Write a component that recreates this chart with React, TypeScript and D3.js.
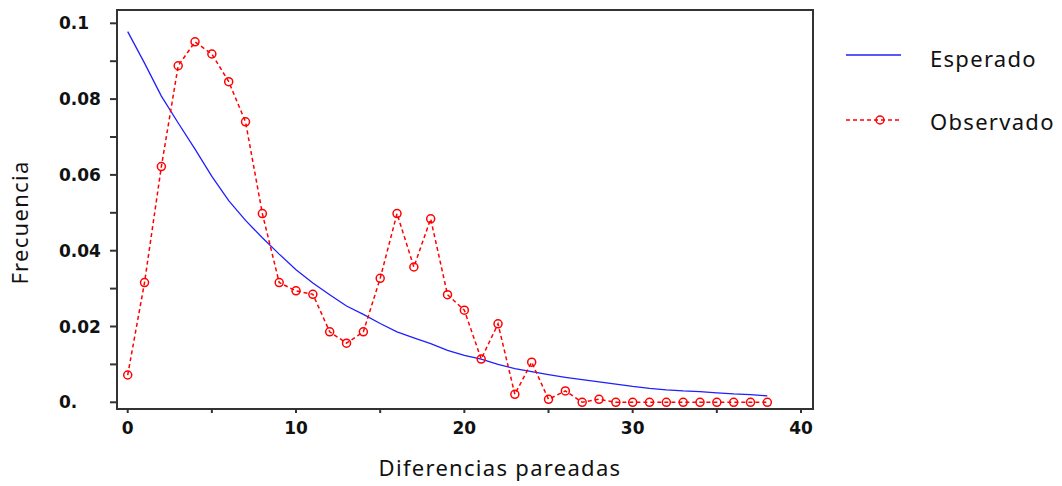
import React, { useRef, useEffect } from 'react';
import * as d3 from 'd3';

// Data
const xValues = d3.range(0, 39);
const observed = [
  0.0072, 0.0316, 0.0622, 0.0888, 0.0951, 0.0919, 0.0846, 0.0740, 0.0498, 0.0316,
  0.0294, 0.0285, 0.0186, 0.0156, 0.0186, 0.0327, 0.0498, 0.0357, 0.0484, 0.0284,
  0.0243, 0.0114, 0.0207, 0.0021, 0.0106, 0.0008, 0.0030, 0, 0.0008, 0,
  0, 0, 0, 0, 0, 0, 0, 0, 0,
];
const expected = [
  0.0978, 0.0895, 0.0808, 0.0737, 0.0668, 0.0596, 0.0532, 0.0480, 0.0434, 0.0391,
  0.0350, 0.0315, 0.0284, 0.0254, 0.0232, 0.0208, 0.0186, 0.0170, 0.0155, 0.0137,
  0.0124, 0.0114, 0.0100, 0.0089, 0.0081, 0.0073, 0.0066, 0.0060, 0.0054, 0.0048,
  0.0042, 0.0037, 0.0033, 0.0030, 0.0028, 0.0025, 0.0022, 0.0020, 0.0017,
];
const yTickValues = [0, 0.02, 0.04, 0.06, 0.08, 0.1];
const yTickLabels = ['0.', '0.02', '0.04', '0.06', '0.08', '0.1'];
const xTickValues = [0, 10, 20, 30, 40];
const seriesNames = ['Esperado', 'Observado'];

const App = () => {
  const svgRef = useRef<SVGSVGElement>(null);

  useEffect(() => {
    const svg = d3.select(svgRef.current);
    svg.selectAll('*').remove();

    // Plot frame
    const frame = { left: 117, top: 10, right: 813, bottom: 409 };
    const axisColor = '#333';
    const tickFont = 'DejaVu Sans, sans-serif';
    const titleFont = 'Noto Sans, Open Sans, sans-serif';

    // Scales
    const x = d3.scaleLinear().domain([0, 40]).range([127.7, 801]);
    const y = d3.scaleLinear().domain([0, 0.1]).range([402.3, 23.3]);

    // Y ticks (every 0.01) and labels
    svg.append('g')
      .selectAll('line')
      .data(d3.range(0, 11).map(i => i / 100))
      .join('line')
      .attr('x1', frame.left - 7)
      .attr('x2', frame.left)
      .attr('y1', d => y(d))
      .attr('y2', d => y(d))
      .attr('stroke', axisColor)
      .attr('stroke-width', 2);

    svg.append('g')
      .selectAll('text')
      .data(yTickValues)
      .join('text')
      .attr('x', 59)
      .attr('y', d => y(d))
      .attr('dy', '0.36em')
      .attr('font-family', tickFont)
      .attr('font-weight', 'bold')
      .attr('font-size', 17)
      .attr('fill', '#111')
      .text((d, i) => yTickLabels[i]);

    // X ticks (every 5) and labels
    svg.append('g')
      .selectAll('line')
      .data(d3.range(0, 41, 5))
      .join('line')
      .attr('x1', d => x(d))
      .attr('x2', d => x(d))
      .attr('y1', frame.bottom)
      .attr('y2', frame.bottom + 4)
      .attr('stroke', axisColor)
      .attr('stroke-width', 2);

    svg.append('g')
      .selectAll('text')
      .data(xTickValues)
      .join('text')
      .attr('x', d => x(d))
      .attr('y', 427.5)
      .attr('dy', '0.36em')
      .attr('text-anchor', 'middle')
      .attr('font-family', tickFont)
      .attr('font-weight', 'bold')
      .attr('font-size', 17)
      .attr('fill', '#111')
      .text(d => String(d));

    // Frame box
    svg.append('rect')
      .attr('x', frame.left)
      .attr('y', frame.top)
      .attr('width', frame.right - frame.left)
      .attr('height', frame.bottom - frame.top)
      .attr('fill', 'none')
      .attr('stroke', axisColor)
      .attr('stroke-width', 2);

    // Expected curve
    const line = d3.line<number>()
      .x((d, i) => x(xValues[i]))
      .y(d => y(d));

    svg.append('path')
      .datum(expected)
      .attr('fill', 'none')
      .attr('stroke', '#1f1fff')
      .attr('stroke-width', 1.3)
      .attr('d', line);

    // Observed dashed line + circles
    svg.append('path')
      .datum(observed)
      .attr('fill', 'none')
      .attr('stroke', '#ff0000')
      .attr('stroke-width', 1.5)
      .attr('stroke-dasharray', '4,3')
      .attr('d', line);

    svg.append('g')
      .selectAll('circle')
      .data(observed)
      .join('circle')
      .attr('cx', (d, i) => x(xValues[i]))
      .attr('cy', d => y(d))
      .attr('r', 4)
      .attr('fill', 'none')
      .attr('stroke', '#ff0000')
      .attr('stroke-width', 1.5);

    // Axis titles
    svg.append('text')
      .attr('x', (377 + 623) / 2)
      .attr('y', 476)
      .attr('text-anchor', 'middle')
      .attr('font-family', titleFont)
      .attr('font-size', 22)
      .attr('letter-spacing', 1.3)
      .attr('fill', '#111')
      .text('Diferencias pareadas');

    svg.append('text')
      .attr('transform', 'translate(28,222.5) rotate(-90)')
      .attr('text-anchor', 'middle')
      .attr('font-family', titleFont)
      .attr('font-size', 22)
      .attr('letter-spacing', 1.3)
      .attr('fill', '#111')
      .text('Frecuencia');

    // Legend
    const legend = svg.append('g');
    legend.append('line')
      .attr('x1', 846).attr('x2', 901)
      .attr('y1', 55).attr('y2', 55)
      .attr('stroke', '#1f1fff')
      .attr('stroke-width', 1.3);
    legend.append('line')
      .attr('x1', 846).attr('x2', 901)
      .attr('y1', 120).attr('y2', 120)
      .attr('stroke', '#ff0000')
      .attr('stroke-width', 1.5)
      .attr('stroke-dasharray', '4,3');
    legend.append('circle')
      .attr('cx', 880).attr('cy', 120).attr('r', 4)
      .attr('fill', 'none')
      .attr('stroke', '#ff0000')
      .attr('stroke-width', 1.5);
    legend.selectAll('text')
      .data(seriesNames)
      .join('text')
      .attr('x', 930)
      .attr('y', (d, i) => 66.7 + i * 63.3)
      .attr('font-family', titleFont)
      .attr('font-size', 22)
      .attr('letter-spacing', 1.3)
      .attr('fill', '#111')
      .text(d => d);
  }, []);

  return (
    <svg
      ref={svgRef}
      width={1062}
      height={486}
      style={{ position: 'absolute', left: 0, top: 0, background: '#fff' }}
    ></svg>
  );
};

export default App;
